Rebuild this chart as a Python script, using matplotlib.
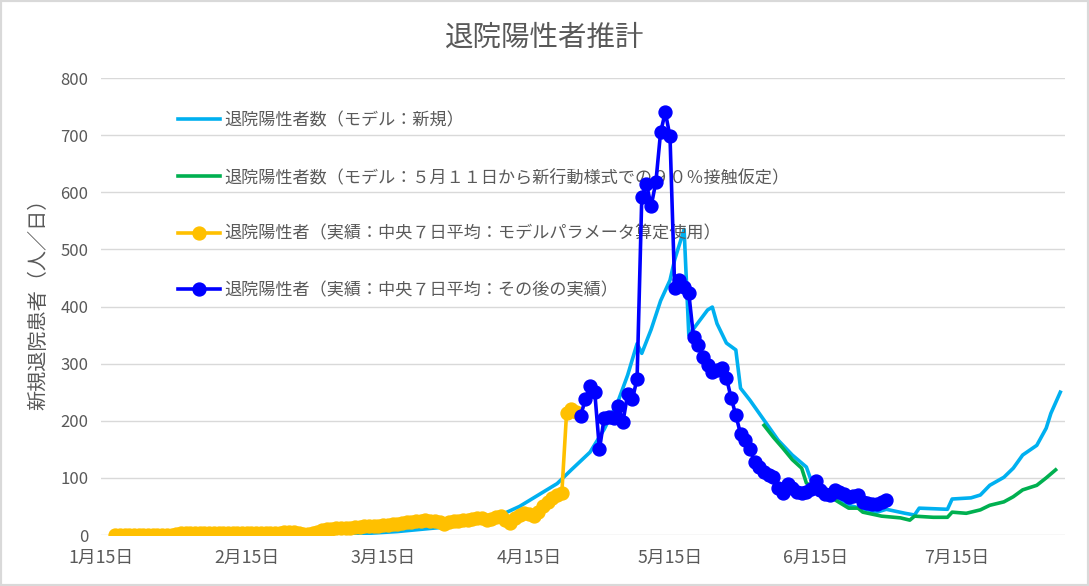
import matplotlib
matplotlib.use('Agg')
import matplotlib.pyplot as plt
import matplotlib.dates as mdates
import matplotlib.ticker as mticker
from matplotlib.patches import Rectangle
import pandas as pd

plt.rcParams['font.family'] = ['Noto Sans CJK JP', 'DejaVu Sans']

start = pd.Timestamp('2020-01-15')
end = pd.Timestamp('2020-08-07')

# model: new (days from Jan 15, value)
model_days = [10, 30, 48, 57, 63, 72, 78, 85, 89, 93, 97, 100, 104, 107, 110, 112, 114, 115,
              117, 119, 121, 122, 124, 125, 127, 129, 130, 131, 133, 135, 136, 138, 141, 144,
              147, 150, 151, 153, 156, 159, 165, 167, 171, 173, 174, 180, 181, 185, 187, 189,
              192, 194, 196, 199, 201, 202, 204]
model_vals = [0, 0, 1, 3, 6, 13, 22, 35, 50, 70, 90, 114, 145, 185, 235, 280, 335, 318,
              360, 410, 446, 482, 535, 350, 372, 394, 399, 370, 336, 324, 257, 236, 201, 166,
              140, 119, 96, 82, 65, 52, 40, 45, 38, 35, 47, 45, 63, 65, 70, 87,
              101, 117, 140, 157, 187, 213, 250]

# model: 90% contact from May 11
green_days = [141, 143, 145, 147, 149, 150, 153, 156, 159, 161, 162, 166, 170, 172, 173, 177,
              180, 181, 184, 187, 189, 192, 194, 196, 199, 201, 203]
green_vals = [192, 171, 152, 132, 117, 91, 75, 62, 47, 47, 40, 33, 30, 26, 33, 31,
              31, 40, 38, 44, 52, 58, 67, 79, 87, 100, 114]

# actual, centred 7-day mean (model parameter period), daily from day 3
yellow_start = 3
yellow_vals = [0, 0, 0, 0, 0, 0, 0, 0, 0, 0, 0, 0, 0, 1,
               3, 4, 4, 4, 4, 4, 4, 4, 4, 4, 4, 4, 4, 4, 4, 4, 4, 4, 4, 4, 4, 4, 5, 5, 5, 4,
               2, 1, 3, 6,
               9, 10, 11, 12, 12, 13,
               13, 14, 14, 15, 15, 16,
               16, 17, 18, 19, 20, 21,
               22, 23, 24, 25, 26, 25,
               24, 22, 20, 23, 24, 25,
               26, 27, 28, 30, 29, 27,
               28, 31, 33, 26, 21, 30,
               35, 38, 36, 33, 40, 50,
               57, 65, 70, 74, 213, 220, 215]

# actual afterwards, daily from day 102
blue_start = 102
blue_vals = [208, 238, 261, 250, 150, 205, 206, 205, 226, 198, 247, 238, 273,
             592, 614, 576, 618, 705, 740, 698,
             432, 446, 434, 423,
             347, 332, 312, 298, 286, 288, 292, 275, 240, 210, 177, 166, 150, 128, 119, 110, 105, 101,
             82, 73, 90, 82, 76, 73, 75, 80, 95, 78, 72, 70, 78, 75, 72, 67, 68, 70, 58, 56, 55, 54, 58, 61]

labels = ['退院陽性者数（モデル：新規）',
          '退院陽性者数（モデル：５月１１日から新行動様式での９０％接触仮定）',
          '退院陽性者（実績：中央７日平均：モデルパラメータ算定使用）',
          '退院陽性者（実績：中央７日平均：その後の実績）']


def to_dates(days):
    return [start + pd.Timedelta(days=d) for d in days]


yellow_days = range(yellow_start, yellow_start + len(yellow_vals))
blue_days = range(blue_start, blue_start + len(blue_vals))

fig = plt.figure(figsize=(10.89, 5.86), dpi=100)
ax = fig.add_axes([101 / 1089, 1 - 535 / 586, 964 / 1089, 457 / 586])

text_c = '#595959'
ax.plot(to_dates(model_days), model_vals, color='#00B0F0', lw=2.6, label=labels[0], zorder=3)
ax.plot(to_dates(green_days), green_vals, color='#00B050', lw=2.6, label=labels[1], zorder=4)
ax.plot(to_dates(yellow_days), yellow_vals, color='#FFC000', lw=2.6, marker='o', ms=9.3,
        label=labels[2], zorder=5)
ax.plot(to_dates(blue_days), blue_vals, color='#0000FF', lw=2.6, marker='o', ms=9.3,
        label=labels[3], zorder=6)

ax.set_xlim(start, end)
ax.set_ylim(0, 800)
ax.yaxis.set_major_locator(mticker.MultipleLocator(100))
ax.xaxis.set_major_locator(mdates.MonthLocator(bymonthday=15))
ax.xaxis.set_major_formatter(mticker.FuncFormatter(
    lambda x, pos: f"{mdates.num2date(x).month}月{mdates.num2date(x).day}日"))

ax.grid(axis='y', color='#D9D9D9', lw=1)
ax.set_axisbelow(True)
for s in ax.spines.values():
    s.set_visible(False)
ax.tick_params(length=0, colors=text_c, labelsize=12)
ax.tick_params(axis='x', pad=10, labelsize=12.8)
ax.tick_params(axis='y', pad=9)

ax.set_ylabel('新規退院患者（人／日）', fontsize=14.5, color=text_c)
ax.yaxis.set_label_coords(-0.053, 0.515)

leg = ax.legend(loc='upper left', bbox_to_anchor=(0.08, 0.927), frameon=False, fontsize=12.3,
                handlelength=2.45, handletextpad=0.25, labelspacing=2.26, borderpad=0,
                borderaxespad=0, numpoints=1)
for t in leg.get_texts():
    t.set_color(text_c)

fig.text(0.5, 1 - 38 / 586, '退院陽性者推計', ha='center', va='center', fontsize=20.5, color=text_c)

fig.patches.append(Rectangle((0, 0), 1, 1, transform=fig.transFigure, fill=False,
                             edgecolor='#D9D9D9', lw=3))

fig.savefig('out.png', dpi=100)
